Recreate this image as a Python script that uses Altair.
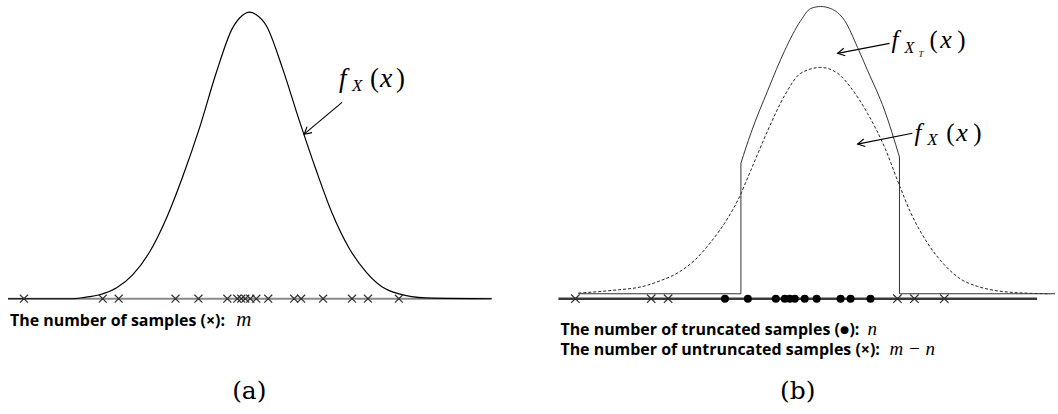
import math
import altair as alt
import pandas as pd

# ---------------- panel (a): density f_X(x) and the m samples ----------------
a_curve_x = [-4.84, -3.54, -3.3, -3.0, -2.66, -2.34, -2.0, -1.66, -1.34, -1.0, -0.66, -0.34,
             -0.14, 0.0, 0.14, 0.34, 0.66, 1.0, 1.34, 1.66, 2.0, 2.34, 2.66, 3.0, 3.54, 4.86]
a_curve_y = [0.0, 0.0, 0.005, 0.014, 0.038, 0.083, 0.163, 0.282, 0.424, 0.595, 0.790, 0.943,
             0.988, 1.0, 0.991, 0.953, 0.807, 0.623, 0.449, 0.299, 0.177, 0.094, 0.042, 0.017, 0.003, 0.0]
a_samples = [-4.52, -2.94, -2.62, -1.48, -1.02, -0.44, -0.24, -0.16, -0.08, 0.02, 0.14, 0.38,
             0.90, 1.04, 1.48, 2.06, 2.38, 3.0]
a_axis = [-4.84, 4.86]

# ---------------- panel (b): f_X(x), truncated f_XT(x) and the samples ----------------
b_fx_x = [-4.0, -3.45, -2.883, -2.617, -2.333, -2.05, -1.783, -1.5, -1.333, -1.117, -0.833,
          -0.55, -0.283, 0.05, 0.333, 0.55, 0.833, 1.117, 1.383, 1.55, 1.833, 2.117, 2.383,
          2.667, 2.95, 3.217, 3.5, 3.883]
b_fx_y = [0.003, 0.0145, 0.035, 0.059, 0.093, 0.150, 0.229, 0.335, 0.414, 0.546, 0.722,
          0.877, 0.974, 1.0, 0.974, 0.912, 0.797, 0.648, 0.467, 0.361, 0.225, 0.128, 0.066,
          0.033, 0.015, 0.0066, 0.0026, 0.0]
b_ft_x = [-1.283, -1.117, -0.833, -0.55, -0.283, -0.117, 0.05, 0.217, 0.45, 0.667, 0.833,
          1.117, 1.367]
b_ft_y = [0.577, 0.709, 0.899, 1.075, 1.207, 1.26, 1.269, 1.26, 1.207, 1.088, 0.987,
          0.811, 0.604]
b_cut = [-1.283, 1.367]          # truncation bounds
b_cut_top = [0.577, 0.604]       # f_XT at the bounds
b_zero_ends = [-4.0, 3.967]      # extent of the f_XT zero line
b_untruncated = [-4.05, -2.783, -2.5, 1.333, 1.617, 2.117]
b_truncated = [-1.55, -1.167, -0.7, -0.55, -0.467, -0.383, -0.217, -0.017, 0.383, 0.55, 0.883]
b_axis = [-4.333, 3.667]
b_axis_y = -0.022

# ---------------- layout: pixels per data unit of each panel ----------------
A_W, B_W, H = 530, 528, 414
A_KX, A_KY = 50.0, 287.5
B_KX, B_KY = 60.0, 227.0
A_XDOM = [-250 / A_KX, (A_W - 250) / A_KX]
A_YDOM = [-(H - 299) / A_KY, 299 / A_KY]
B_XDOM = [-290 / B_KX, (B_W - 290) / B_KX]
B_YDOM = [-(H - 294) / B_KY, 294 / B_KY]

X_PATH = "M-1,-1L1,1M-1,1L1,-1"
HEAD_PATH = "M-1,-0.55L0,0L-1,0.55"

SERIF = "'Liberation Serif', 'Times New Roman', 'DejaVu Serif', serif"
SANS = "'Open Sans', Lato, sans-serif"
TAG = "'DejaVu Serif', serif"
CAP = 16
MATH = 19
LINE1, LINE2 = -0.1806, -0.2687


def enc(xdom, ydom):
    sx = alt.Scale(domain=xdom, nice=False, zero=False)
    sy = alt.Scale(domain=ydom, nice=False, zero=False)
    return (alt.X("x:Q", scale=sx, axis=None),
            alt.Y("y:Q", scale=sy, axis=None))


def arrow(x0, y0, x1, y1, xdom, ydom, kx, ky):
    ex, ey = enc(xdom, ydom)
    seg = pd.DataFrame({"x": [x0], "y": [y0], "x2": [x1], "y2": [y1]})
    line = alt.Chart(seg).mark_rule(color="black", strokeWidth=1.1).encode(
        x=ex, y=ey, x2="x2:Q", y2="y2:Q")
    ang = math.degrees(math.atan2(-(y1 - y0) * ky, (x1 - x0) * kx)) % 360
    head = alt.Chart(pd.DataFrame({"x": [x1], "y": [y1]})).mark_point(
        shape=HEAD_PATH, filled=False, stroke="black", strokeWidth=1.1,
        size=200, opacity=1, angle=ang).encode(x=ex, y=ey)
    return line + head


def texts(rows, xdom, ydom, **style):
    ex, ey = enc(xdom, ydom)
    df = pd.DataFrame(rows, columns=["x", "y", "t", "s"])
    return alt.Chart(df).mark_text(align=style.pop("align", "left"), baseline="alphabetic",
                                   color="black", **style).encode(
        x=ex, y=ey, text="t:N", size=alt.Size("s:Q", scale=None))


# ---------------- panel (a) ----------------
ax, ay = enc(A_XDOM, A_YDOM)
a_base = alt.Chart(pd.DataFrame({"x": [a_axis[0]], "x2": [a_axis[1]], "y": [0.0]})).mark_rule(
    color="#8a8a8a", strokeWidth=2).encode(x=ax, x2="x2:Q", y=ay)
a_line = alt.Chart(pd.DataFrame({"x": a_curve_x, "y": a_curve_y})).mark_line(
    interpolate="monotone", color="black", strokeWidth=1.2).encode(x=ax, y=ay)
a_pts = alt.Chart(pd.DataFrame({"x": a_samples, "y": [0.0] * len(a_samples)})).mark_point(
    shape=X_PATH, filled=False, stroke="#2a2a2a", strokeWidth=1.1, size=64, opacity=1).encode(x=ax, y=ay)
a_arrow = arrow(1.86, 0.685, 1.10, 0.574, A_XDOM, A_YDOM, A_KX, A_KY)
a_it = texts([(1.80, 0.740, "f", 27), (2.06, 0.724, "X", 17), (2.62, 0.740, "x", 28),
              (-0.26, -0.094, "m", MATH + 2)], A_XDOM, A_YDOM, font=SERIF, fontStyle="italic")
a_up = texts([(2.42, 0.740, "(", 27), (2.94, 0.740, ")", 27)], A_XDOM, A_YDOM, font=SERIF)
a_cap = texts([(-4.8, -0.094, "The number of samples (\u00d7):", CAP)], A_XDOM, A_YDOM,
              font=SANS, fontWeight="bold")
a_tag = texts([(0.0, -0.351, "(a)", 25)], A_XDOM, A_YDOM, font=TAG, align="center")

panel_a = alt.layer(a_base, a_line, a_pts, a_arrow, a_it, a_up, a_cap, a_tag).properties(
    width=A_W, height=H)

# ---------------- panel (b) ----------------
bx, by = enc(B_XDOM, B_YDOM)
b_base = alt.Chart(pd.DataFrame({"x": [b_axis[0]], "x2": [b_axis[1]], "y": [b_axis_y]})).mark_rule(
    color="#3a3a3a", strokeWidth=2.5).encode(x=bx, x2="x2:Q", y=by)
b_fx = alt.Chart(pd.DataFrame({"x": b_fx_x, "y": b_fx_y})).mark_line(
    interpolate="monotone", color="#222222", strokeWidth=1, strokeDash=[3, 2]).encode(x=bx, y=by)
b_ft = alt.Chart(pd.DataFrame({"x": b_ft_x, "y": b_ft_y})).mark_line(
    interpolate="monotone", color="#333333", strokeWidth=1).encode(x=bx, y=by)
edges = pd.DataFrame({
    "seg": ["l", "l", "l", "r", "r", "r"],
    "i": [0, 1, 2, 0, 1, 2],
    "x": [b_zero_ends[0], b_cut[0], b_cut[0], b_cut[1], b_cut[1], b_zero_ends[1]],
    "y": [0.0, 0.0, b_cut_top[0], b_cut_top[1], 0.0, 0.0],
})
b_edges = alt.Chart(edges).mark_line(color="#333333", strokeWidth=1).encode(
    x=bx, y=by, detail="seg:N", order="i:Q")
b_x = alt.Chart(pd.DataFrame({"x": b_untruncated, "y": [b_axis_y] * len(b_untruncated)})).mark_point(
    shape=X_PATH, filled=False, stroke="#2a2a2a", strokeWidth=1.1, size=72, opacity=1).encode(x=bx, y=by)
b_dots = alt.Chart(pd.DataFrame({"x": b_truncated, "y": [b_axis_y] * len(b_truncated)})).mark_point(
    shape="circle", filled=True, color="black", size=64, opacity=1).encode(x=bx, y=by)
b_arrow1 = arrow(1.20, 1.106, 0.333, 1.062, B_XDOM, B_YDOM, B_KX, B_KY)
b_arrow2 = arrow(1.583, 0.709, 0.667, 0.661, B_XDOM, B_YDOM, B_KX, B_KY)
b_it = texts([(1.233, 1.084, "f", 25), (1.45, 1.063, "X", 16), (1.683, 1.044, "T", 9),
              (2.05, 1.084, "x", 26),
              (1.617, 0.674, "f", 25), (1.833, 0.656, "X", 17), (2.317, 0.674, "x", 26),
              (0.833, LINE1, "n", MATH), (1.20, LINE2, "m \u2212 n", MATH)],
             B_XDOM, B_YDOM, font=SERIF, fontStyle="italic")
b_up = texts([(1.867, 1.084, "(", 25), (2.333, 1.084, ")", 25),
              (2.15, 0.674, "(", 25), (2.60, 0.674, ")", 25)],
             B_XDOM, B_YDOM, font=SERIF)
b_cap = texts([(-4.3, LINE1, "The number of truncated samples (\u25cf):", CAP),
               (-4.3, LINE2, "The number of untruncated samples (\u00d7):", CAP)],
              B_XDOM, B_YDOM, font=SANS, fontWeight="bold")
b_tag = texts([(-0.333, -0.467, "(b)", 25)], B_XDOM, B_YDOM, font=TAG, align="center")

panel_b = alt.layer(b_fx, b_base, b_edges, b_ft, b_x, b_dots, b_arrow1, b_arrow2,
                    b_it, b_up, b_cap, b_tag).properties(width=B_W, height=H)

chart = alt.hconcat(panel_a, panel_b, spacing=0).properties(
    padding=0, background="white").configure_view(stroke=None)

chart.save("out.html", embed_options={"renderer": "svg", "actions": False})
